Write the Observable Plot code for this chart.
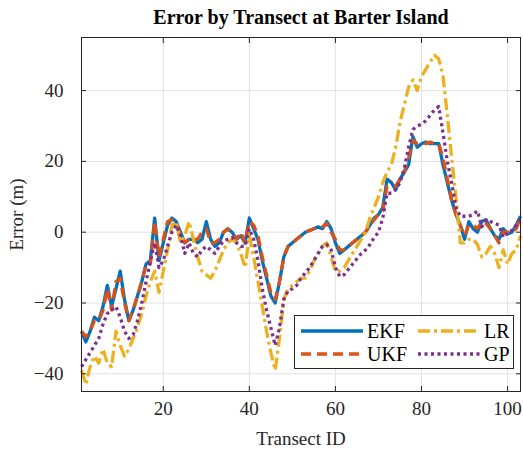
<!DOCTYPE html>
<html><head><meta charset="utf-8">
<script src="https://cdn.jsdelivr.net/npm/d3@7"></script>
<script src="https://cdn.jsdelivr.net/npm/@observablehq/plot@0.6"></script>
<style>
body{margin:0;background:#fff;}
#wrap{position:relative;width:523px;height:451px;font-family:"Liberation Serif",serif;}
#legend{position:absolute;left:294px;top:315px;width:220px;height:54px;border:1px solid #262626;background:#fff;box-sizing:border-box;}
#legend svg{position:absolute;left:0;top:0;}
</style></head><body><div id="wrap"></div>
<script>
const title = "Error by Transect at Barter Island";
const xLabel = "Transect ID";
const yLabel = "Error (m)";
const xTicks = [20, 40, 60, 80, 100];
const yTicks = [-40, -20, 0, 20, 40];
const transectIds = d3.range(1, 104);
const seriesNames = ["EKF", "UKF", "LR", "GP"];
const ekf = [-28,-31,-28,-24,-25,-21,-15,-21,-16,-11,
 -19,-25,-22,-18,-14,-9,-8,4,-8,-3,
 2,4,3,0,-3,-2,-2,-3,-2,3,
 -2,-4,-3,0,1,0,-2,-1,-3,4,
 1,-2,-8,-13,-18,-20,-14,-7,-4,-3,
 -2,-1,0,0.5,1,1.5,1,3,1,-3,
 -6,-5,-4,-3,-2,-1,0,2,4,5,
 7,15,14,12,15,17,19,27,24,25,
 25.5,25,25,25,19,14,9,5,2,-2,
 3,1,0,3,3.5,1,-1,-2,1,-0.5,
 0,2,4.5];
const ukf = [-28,-29.5,-28,-25,-25,-22,-16,-22,-14,-13,
 -20,-25,-22,-18,-14,-9,-9,3,-7,-2,
 3,3.5,3,-1,-3,-2,-2,-2,0,1,
 -3,-3,-2,0,1,-1,-2,0,-3,3,
 2,-1,-7,-12,-17,-19,-14,-7,-4,-3,
 -2,-1,0,0.5,1,1.5,1.5,2.5,0,-2,
 -5,-5,-4,-3,-2,-1,0,2,3.5,5,
 6,13,13,13,15,17,21,26,25,25,
 25,25.5,25,25,21,15,9,5,2,-1,
 2,2,1,3,2.5,1,-1,-3,0,0,
 0,1,4];
const lr = [-39,-43,-38,-35,-37,-33,-37,-38,-28,-32,
 -35,-33,-30,-27,-23,-18,-14,-11,-17,-11,
 -5,2,3,-3,-1,3,-2,-7,-11,-12,
 -13,-11,-8,-5,-3,-2,-3,-6,-10,-1,
 -7,-14,-21,-28,-34,-39,-30,-19,-16,-15,
 -14,-13,-13,-11,-8,-6,-4,-3,-7,-11,
 -11,-10,-8,-6,-4,-2,0,4,7,10,
 14,17,19,24,31,36,41,43,40,44,
 46,48,50,49,44,33,21,10,-3,-3,
 -2,-2,-3.5,-7,-6,-4,-6,-10,-5,-9,
 -6,-5,-1];
const gp = [-38,-36,-34,-32,-30,-26,-23,-22,-21,-24,
 -28,-30,-29,-25,-20,-14,-8,-3,-10,-8,
 -4,0,2,-1,-6,-3,-6,-7,-5,-4,
 -5,-6,-4,-2.5,-2,-1.5,-3,-4,-4,1,
 -2,-8,-16,-22,-27,-32,-27,-19,-16.5,-16,
 -15,-13,-11.5,-10,-8,-6,-4,-3.5,-5,-10,
 -12.5,-12,-10.5,-9,-7.5,-6,-5,-3.5,-1.5,0,
 4,11,11,12,14,18,24,29,30,30.5,
 31.5,33,34.5,35.5,28,20,14,7,4.5,4.5,
 4.5,5,6,1.5,3.5,3,2.5,2,-1.5,0,
 0.5,2,4];
const colors = ["#0072BD", "#D95319", "#EDB120", "#7E2F8E"];
const dashes = [null, "10,6", "12,4,3,4", "3,3.5"];
const seriesValues = [ekf, ukf, lr, gp];

const lineMarks = seriesValues.map((vals, i) => {
  const rows = transectIds.map((t, j) => ({t, v: vals[j]}));
  return Plot.line(rows, {x: "t", y: "v", stroke: colors[i], strokeWidth: 3.3, strokeDasharray: dashes[i], strokeLinejoin: "round", strokeLinecap: "butt"});
});

const chart = Plot.plot({
  width: 523, height: 451,
  marginLeft: 81, marginRight: 3, marginTop: 37, marginBottom: 60,
  style: {fontFamily: "'Liberation Serif', serif", fontSize: "19px", color: "#262626", background: "white", overflow: "visible"},
  x: {domain: [1, 103]},
  y: {domain: [-45, 55]},
  marks: [
    Plot.gridX(xTicks, {stroke: "#e2e2e2", strokeOpacity: 1}),
    Plot.gridY(yTicks, {stroke: "#e2e2e2", strokeOpacity: 1}),
    ...lineMarks,
    Plot.frame({stroke: "#262626"}),
    Plot.axisX(xTicks, {tickSize: -5, tickPadding: 15, fontSize: 19, label: xLabel, labelAnchor: "center", labelArrow: "none", labelOffset: 53}),
    Plot.axisX(xTicks, {anchor: "top", tickSize: -5, tickFormat: () => "", label: null}),
    Plot.axisY(yTicks, {tickSize: -5, tickPadding: 23, fontSize: 19, label: yLabel, labelAnchor: "center", labelArrow: "none", labelOffset: 72}),
    Plot.axisY(yTicks, {anchor: "right", tickSize: -5, tickFormat: () => "", label: null}),
    Plot.text([title], {frameAnchor: "top", dy: -28, fontWeight: "bold", fontSize: 20, fill: "#000"})
  ]
});
const wrap = document.getElementById("wrap");
wrap.appendChild(chart);

// legend inside the axes (lower right)
const legend = document.createElement("div");
legend.id = "legend";
const ns = "http://www.w3.org/2000/svg";
const lsvg = document.createElementNS(ns, "svg");
lsvg.setAttribute("width", 218); lsvg.setAttribute("height", 52);
const pos = [[6, 15], [6, 38], [123, 15], [123, 38]];
seriesNames.forEach((name, i) => {
  const [x0, y0] = pos[i];
  const ln = document.createElementNS(ns, "line");
  ln.setAttribute("x1", x0); ln.setAttribute("x2", x0 + 62);
  ln.setAttribute("y1", y0); ln.setAttribute("y2", y0);
  ln.setAttribute("stroke", colors[i]); ln.setAttribute("stroke-width", 3.3);
  if (dashes[i]) ln.setAttribute("stroke-dasharray", dashes[i]);
  lsvg.appendChild(ln);
  const tx = document.createElementNS(ns, "text");
  tx.setAttribute("x", x0 + 66); tx.setAttribute("y", y0 + 7);
  tx.setAttribute("font-family", "'Liberation Serif', serif");
  tx.setAttribute("font-size", 20);
  tx.setAttribute("fill", "#000");
  tx.textContent = name;
  lsvg.appendChild(tx);
});
legend.appendChild(lsvg);
wrap.appendChild(legend);
</script>
</body></html>
